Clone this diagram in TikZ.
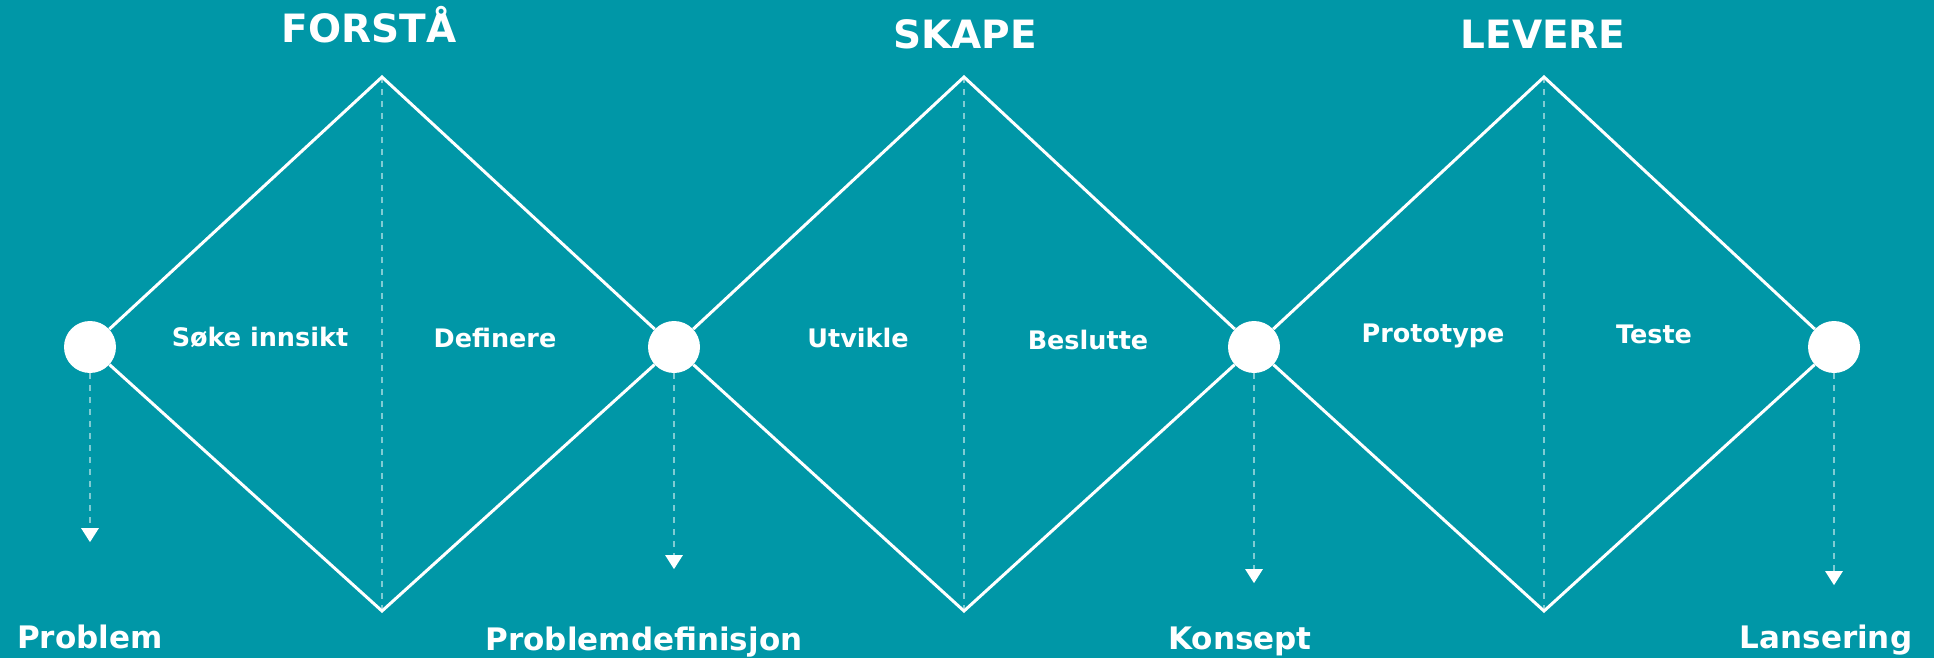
\documentclass[tikz,border=0pt]{standalone}
\usepackage{fontspec}
\setmainfont{DejaVu Sans}
\usepackage{tikz}
\usetikzlibrary{arrows.meta, positioning}
\definecolor{bgteal}{RGB}{0,151,167}

\begin{document}
\begin{tikzpicture}[
  x=1pt, y=1pt,
  stage/.style={circle, fill=white, minimum size=52pt, inner sep=0pt},
  edge/.style={white, line width=3pt},
  divider/.style={white!50!bgteal, line width=2.6pt, dash pattern=on 6pt off 6pt},
  outcome/.style={white!50!bgteal, line width=2.6pt, dash pattern=on 6pt off 6pt,
                  -{Triangle[width=17pt, length=14pt, color=white]}},
  phase/.style={white, font=\fontsize{39}{39}\selectfont\bfseries, anchor=base, inner sep=0pt},
  activity/.style={white, font=\fontsize{25.5}{25.5}\selectfont\bfseries, anchor=base, inner sep=0pt},
  result/.style={white, font=\fontsize{31}{31}\selectfont\bfseries, anchor=base, inner sep=0pt},
]
  \useasboundingbox (0,0) rectangle (1934,657);
  \fill[bgteal] (-5,-5) rectangle (1939,662);

  % ── stages ──
  \node[stage] (s1) at (90,310) {};
  \node[stage] (s2) at (674,310) {};
  \node[stage] (s3) at (1254,310) {};
  \node[stage] (s4) at (1834,310) {};

  \coordinate (t1) at (382,580);
  \coordinate (b1) at (382,46);
  \coordinate (t2) at (964,580);
  \coordinate (b2) at (964,46);
  \coordinate (t3) at (1544,580);
  \coordinate (b3) at (1544,46);

  % ── diamonds ──
  \draw[divider] (t1) -- (b1);
  \draw[divider] (t2) -- (b2);
  \draw[divider] (t3) -- (b3);

  \draw[edge] (s1) -- (t1) -- (s2);
  \draw[edge] (s1) -- (b1) -- (s2);
  \draw[edge] (s2) -- (t2) -- (s3);
  \draw[edge] (s2) -- (b2) -- (s3);
  \draw[edge] (s3) -- (t3) -- (s4);
  \draw[edge] (s3) -- (b3) -- (s4);

  % ── phases ──
  \node[phase] (ph1) at (369,614) {FORSTÅ};
  \node[phase] (ph2) at (965,608) {SKAPE};
  \node[phase] (ph3) at (1543,608) {LEVERE};

  % ── activities ──
  \node[activity] (a1) at (260,311) {Søke innsikt};
  \node[activity] (a2) at (495,310) {Definere};
  \node[activity] (a3) at (858,310) {Utvikle};
  \node[activity] (a4) at (1088,308) {Beslutte};
  \node[activity] (a5) at (1433,315) {Prototype};
  \node[activity] (a6) at (1654,314) {Teste};

  % ── outcomes ──
  \coordinate[below=169pt of s1] (e1);
  \coordinate[below=196pt of s2] (e2);
  \coordinate[below=210pt of s3] (e3);
  \coordinate[below=212pt of s4] (e4);

  \draw[outcome] (s1) -- (e1);
  \draw[outcome] (s2) -- (e2);
  \draw[outcome] (s3) -- (e3);
  \draw[outcome] (s4) -- (e4);

  \node[result] (r1) at (90,9) {Problem};
  \node[result] (r2) at (644,7) {Problemdefinisjon};
  \node[result] (r3) at (1240,8) {Konsept};
  \node[result] (r4) at (1826,9) {Lansering};
\end{tikzpicture}
\end{document}
